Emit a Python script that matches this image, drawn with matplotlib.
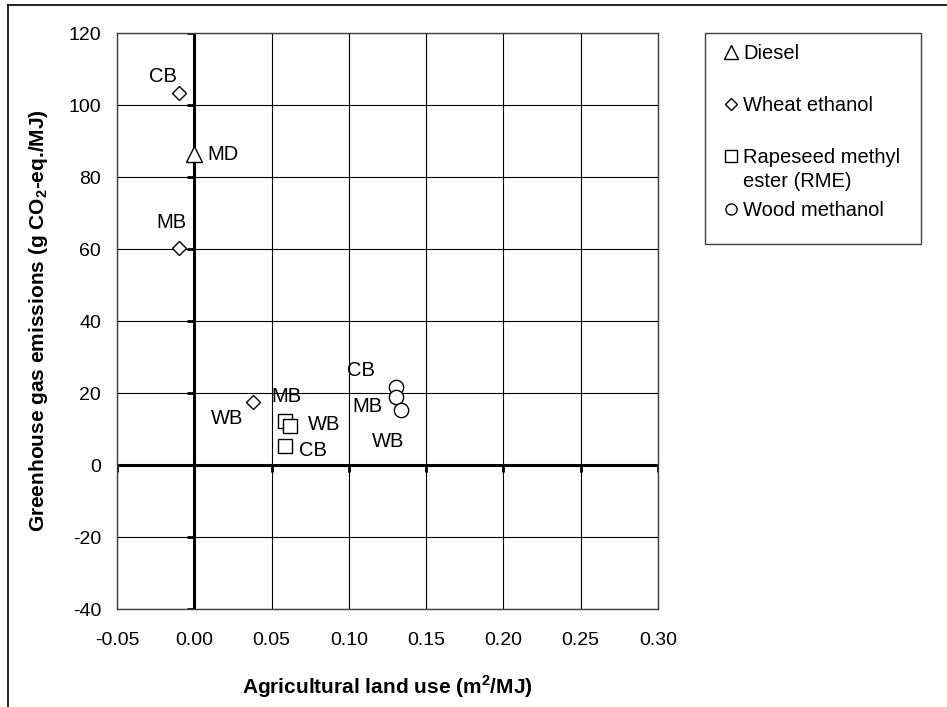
import matplotlib
matplotlib.use("Agg")
import matplotlib.pyplot as plt
from matplotlib.lines import Line2D
from matplotlib.patches import Rectangle
from matplotlib.markers import TICKLEFT, TICKDOWN
from matplotlib.transforms import ScaledTranslation

plt.rcParams['font.family'] = ['Liberation Sans', 'DejaVu Sans']
plt.rcParams['mathtext.fontset'] = 'custom'
plt.rcParams['mathtext.rm'] = 'Liberation Sans'
plt.rcParams['mathtext.bf'] = 'Liberation Sans:bold'

# ---- data ----
diesel_x = [0.0]
diesel_y = [86.5]
diesel_lbl = ["MD"]

wheat_x = [-0.0097, -0.0099, 0.038]
wheat_y = [103.3, 60.4, 17.6]
wheat_lbl = ["CB", "MB", "WB"]

rme_x = [0.0587, 0.0617, 0.0587]
rme_y = [12.1, 10.9, 5.2]
rme_lbl = ["MB", "WB", "CB"]

meth_x = [0.1303, 0.1303, 0.1339]
meth_y = [21.7, 19.0, 15.3]
meth_lbl = ["CB", "MB", "WB"]

# label anchor positions (data coords)
lbl_pos = {
    ("diesel", "MD"): (0.0188, 86.7),
    ("wheat", "CB"): (-0.0204, 108.5),
    ("wheat", "MB"): (-0.0149, 67.9),
    ("wheat", "WB"): (0.0214, 13.6),
    ("rme", "MB"): (0.0596, 19.7),
    ("rme", "WB"): (0.084, 11.9),
    ("rme", "CB"): (0.077, 4.7),
    ("meth", "CB"): (0.108, 26.7),
    ("meth", "MB"): (0.112, 16.7),
    ("meth", "WB"): (0.1257, 7.2),
}

xticks = [-0.05, 0.00, 0.05, 0.10, 0.15, 0.20, 0.25, 0.30]
yticks = [-40, -20, 0, 20, 40, 60, 80, 100, 120]

FS = 14

fig = plt.figure(figsize=(9.47, 7.07), dpi=100)
ax = fig.add_axes([117/947, 98/707, 541/947, 576/707])
ax.set_xlim(-0.05, 0.30)
ax.set_ylim(-40, 120)
ax.set_xticks(xticks)
ax.set_xticklabels([f"{v:.2f}" for v in xticks])
ax.set_yticks(yticks)
ax.set_yticklabels([str(v) for v in yticks])
ax.tick_params(length=0, labelsize=FS)
ax.tick_params(axis='y', pad=11.5)
ax.tick_params(axis='x', pad=16.5)
ax.grid(True, color='black', lw=0.8)
ax.set_axisbelow(True)
for s in ax.spines.values():
    s.set_color('#404040')
    s.set_linewidth(1.0)

ax.axhline(0, color='black', lw=2.2, zorder=2)
ax.axvline(0, color='black', lw=2.2, zorder=2)
ax.plot([0]*len(yticks), yticks, ls='none', marker=TICKLEFT, ms=5, mew=2, color='black', zorder=2)
ax.plot(xticks, [0]*len(xticks), ls='none', marker=TICKDOWN, ms=5, mew=2, color='black', zorder=2)

mk = dict(ls='none', mfc='white', mec='black', mew=1.0, zorder=4)
ax.plot(diesel_x, diesel_y, marker='^', ms=11, **mk)
ax.plot(wheat_x, wheat_y, marker='D', ms=7, **mk)
ax.plot(rme_x, rme_y, marker='s', ms=9.5, **mk)
ax.plot(meth_x, meth_y, marker='o', ms=10.3, **mk)

shift = ax.transData + ScaledTranslation(0, -2/100, fig.dpi_scale_trans)
for key, lbls in [("diesel", diesel_lbl), ("wheat", wheat_lbl), ("rme", rme_lbl), ("meth", meth_lbl)]:
    for l in lbls:
        px, py = lbl_pos[(key, l)]
        ax.text(px, py, l, fontsize=FS + 0.5, ha='center', va='center', zorder=5, transform=shift)

ax.set_xlabel("Agricultural land use (m$^{\\mathbf{2}}$/MJ)", fontsize=FS + 1, fontweight='bold', labelpad=17.5)
ax.set_ylabel("Greenhouse gas emissions (g CO$_{\\mathbf{2}}$-eq./MJ)", fontsize=FS + 1, fontweight='bold', labelpad=13)

# legend box (manual)
W, H = 947, 707
fig.add_artist(Rectangle((705/W, 1-244/H), (921-705)/W, (244-33)/H, transform=fig.transFigure,
                         fill=False, ec='#404040', lw=1.0))
leg_markers = [("^", 51.5, 9.5), ("D", 103.5, 6), ("s", 155.5, 8), ("o", 209, 8)]
for m, yy, ms in leg_markers:
    fig.add_artist(Line2D([730.5/W], [1-yy/H], transform=fig.transFigure, marker=m, ms=ms,
                          mfc='white', mec='black', mew=1.0, ls='none'))
leg_lines = [("Diesel", 51.5), ("Wheat ethanol", 103.5), ("Rapeseed methyl", 155.5), ("ester (RME)", 180), ("Wood methanol", 209)]
for t, yy in leg_lines:
    fig.text(743/W, 1-(yy+7.2)/H, t, fontsize=FS + 0.5, ha='left', va='baseline')

# outer border (left and top)
fig.add_artist(Line2D([8/W, 8/W], [0, 1-5/H], transform=fig.transFigure, color='black', lw=1.2))
fig.add_artist(Line2D([8/W, 1], [1-5/H, 1-5/H], transform=fig.transFigure, color='black', lw=1.2))

fig.savefig("out.png", dpi=100)
